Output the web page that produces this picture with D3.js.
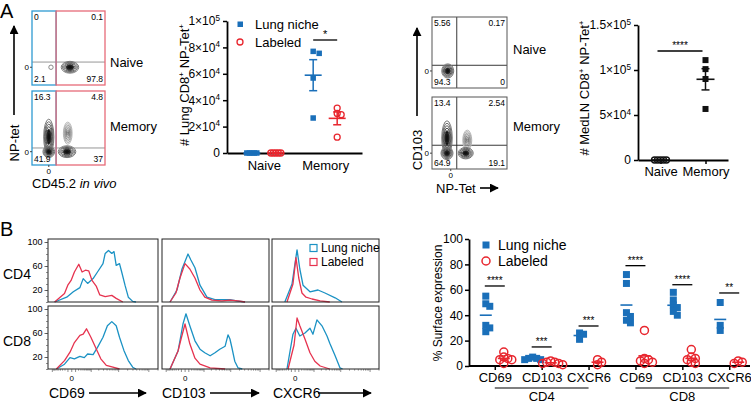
<!DOCTYPE html>
<html>
<head>
<meta charset="utf-8">
<script src="https://cdn.jsdelivr.net/npm/d3@7"></script>
<style>
body { margin: 0; background: #fff; }
svg { display: block; }
</style>
</head>
<body>
<script>
var FONT = '"Liberation Sans", Arial, Helvetica, sans-serif'
var blue = "#1a6fb9", red = "#e8262e"
var histBlue = "#1b92c4", histRed = "#e6334f"
var gateBlue = "#2e9ad2", gateRed = "#e66b79"

// ---- panel A data ----
var aGroups = ["Naive", "Memory"]
var lungNaive = [0, 0, 0, 0, 0]
var lungMemory = [77000, 75500, 56800, 26500]
var labNaive = [0, 0, 0, 0, 0]
var labMemory = [34000, 30000, 29000, 12000]
var lungTicks = [0, 20000, 40000, 60000, 80000, 100000]

var medNaive = [0, 0, 0, 0, 0]
var medMemory = [111000, 101000, 90000, 56700]
var medTicks = [0, 50000, 100000, 150000]

// gate / quadrant percentages: top-left, top-right, bottom-left, bottom-right
var gateNaive = ["0", "0.1", "2.1", "97.8"]
var gateMemory = ["16.3", "4.8", "41.9", "37"]
var quadNaive = ["5.56", "0.17", "94.3", "0"]
var quadMemory = ["13.4", "2.54", "64.9", "19.1"]

// contour blobs in plot units: x, y, half width, half height, kind (1 dark, 0 light, 2 single ring)
var blobsA1 = [[26, 24, 3, 3, 2], [52, 24, 12, 8, 1]]
var blobsA2 = [[23, 38, 7, 24, 1], [23, 18, 8, 8, 1], [49, 43, 6, 15, 0], [48, 18, 12, 8, 1]]
var blobsR1 = [[21, 24, 8, 10, 1]]
var blobsR2 = [[20, 43, 7, 24, 1], [20, 22, 8, 9, 1], [47, 40, 6, 14, 0], [45, 22, 10, 8, 1]]

// ---- panel B histograms: [channel (0-100 of the box), % of max] ----
var cd4Cd69Lung = [[6,0],[17,8],[23,17],[29,24],[32,39],[36,31],[41,39],[45,50],[50,64],[52,81],[55,86],[58,81],[60,84],[62,61],[65,64],[67,50],[70,28],[73,8],[77,1],[80,0]]
var cd4Cd69Lab = [[6,0],[15,14],[18,28],[21,36],[24,50],[28,63],[31,50],[34,53],[37,52],[40,36],[44,26],[47,12],[52,9],[58,11],[62,6],[68,0]]
var cd4Cd103Lung = [[7.5,0],[14,20],[18.7,55],[24.3,80],[27,70],[30.8,57],[35.5,28],[42,8],[49.5,4],[56,4],[63.5,4],[70,2],[77.6,0]]
var cd4Cd103Lab = [[7.5,0],[13,15],[16.8,40],[21.5,64],[26,55],[30.8,40],[35.5,20],[40,8],[46.7,3],[56,2],[63.5,3],[71,2],[77.6,0]]
var cd4Cxcr6Lung = [[12,0],[18.7,30],[23.4,87],[26,55],[29,28],[35.5,17],[43,20],[49.5,15],[59,7],[65.4,0]]
var cd4Cxcr6Lab = [[14,0],[19.6,30],[22.4,74],[25,40],[28,15],[31.8,8],[37.4,5],[45,2],[54,0]]
var cd8Cd69Lung = [[7.6,0],[15,8],[20,19],[24,17],[29,21],[33,19],[36,25],[41,24],[45,36],[50,53],[54,72],[58,79],[62,72],[65,53],[69,31],[73,14],[77,3],[80,0]]
var cd8Cd69Lab = [[7.6,0],[15,14],[20,28],[24,44],[29,56],[32,58],[35,67],[39,53],[44,33],[48,17],[53,6],[59,3],[65,0]]
var cd8Cd103Lung = [[7.5,0],[15,30],[19.6,75],[22.4,92],[26,72],[30.8,47],[35.5,33],[40,27],[45,22],[49.5,27],[54,33],[59,38],[61.7,57],[63.5,50],[65.4,35],[68,13],[71,2],[75,0]]
var cd8Cd103Lab = [[7.5,0],[15,30],[17.8,50],[21.5,75],[26,42],[30.8,18],[35.5,8],[45,2],[59,0]]
var cd8Cxcr6Lung = [[14,0],[19.6,58],[22.4,68],[26,55],[30.8,60],[35.5,68],[38.3,58],[42,82],[46.7,72],[51.4,55],[54,43],[59,22],[63.5,2],[66,0]]
var cd8Cxcr6Lab = [[15,0],[20.6,40],[23.4,85],[26,72],[30.8,50],[35.5,27],[40,13],[45,5],[54,0]]
var histMarkers = ["CD69", "CD103", "CXCR6"]
var histCells = ["CD4", "CD8"]
var histTicks = [20, 60, 100]

// ---- panel B surface expression ----
var bMarkers = ["CD69", "CD103", "CXCR6", "CD69", "CD103", "CXCR6"]
var bCells = ["CD4", "CD8"]
var bLung = [[55, 49, 47, 32, 30, 27], [7, 6, 6, 5, 5], [26, 25, 21], [72, 65, 42, 39, 36, 34], [58, 52, 48, 46, 43, 40], [50, 32, 28]]
var bLab = [[11, 7, 6, 5, 5, 2], [4, 3, 3, 2, 2, 1], [5, 3, 1], [28, 6, 5, 4, 3, 2], [13, 7, 6, 5, 3, 2], [4, 3, 2]]
var bStars = ["****", "***", "***", "****", "****", "**"]
var bStarHeights = [63, 15, 31.5, 79, 64, 57.5]
var bTicks = [0, 20, 40, 60, 80, 100]

var svg = d3.select("body").append("svg")
    .attr("width", 751).attr("height", 404)
    .attr("font-family", FONT)

svg.append("defs").append("marker")
    .attr("id", "head").attr("viewBox", "0 0 10 10")
    .attr("refX", 9).attr("refY", 5)
    .attr("markerWidth", 9).attr("markerHeight", 9)
    .attr("markerUnits", "userSpaceOnUse").attr("orient", "auto")
    .append("path").attr("d", "M0,0L10,5L0,10z").attr("fill", "#000")

function text(x, y, t, size, anchor) {
    return svg.append("text").attr("x", x).attr("y", y)
        .attr("font-size", size).attr("text-anchor", anchor || "start").text(t)
}

function arrow(x1, y1, x2, y2) {
    svg.append("line").attr("x1", x1).attr("y1", y1).attr("x2", x2).attr("y2", y2)
        .attr("stroke", "#000").attr("stroke-width", 1.6).attr("marker-end", "url(#head)")
}

// label with superscript "+" parts, e.g. ["# Lung CD8", "+", " NP-Tet", "+"]
function supLabel(x, y, parts, size, rotate) {
    var t = svg.append("text").attr("font-size", size).attr("text-anchor", "middle")
        .attr("transform", "translate(" + x + "," + y + ")" + (rotate ? " rotate(-90)" : ""))
    parts.forEach(function(p, i) {
        var s = t.append("tspan").text(p)
        if (i % 2) s.attr("font-size", size * 0.62).attr("dy", -size * 0.4)
        else if (i > 0) s.attr("dy", size * 0.4)
    })
    return t
}

function sciLabels(sel) {
    sel.selectAll(".tick text").each(function(d) {
        var t = d3.select(this).text("")
        if (d === 0) { t.text("0"); return }
        var e = Math.floor(Math.log10(d) + 1e-9)
        var m = +(d / Math.pow(10, e)).toFixed(1)
        t.append("tspan").text(m + "×10")
        t.append("tspan").attr("dy", "-0.55em").attr("font-size", "0.68em").text(e)
    })
}

function styleAxis(g, size) {
    g.attr("font-family", FONT).attr("font-size", size)
    g.select(".domain").attr("stroke-width", 1.8)
    g.selectAll(".tick line").attr("stroke-width", 1.5)
}

// spread points of similar height sideways, prism style
function dodge(vals, y, step) {
    var placed = []
    return vals.slice().sort(d3.descending).map(function(v) {
        var cy = y(v), k = 0, dx = 0
        while (placed.some(function(p) { return Math.abs(p[0] - dx) < step * 0.99 && Math.abs(p[1] - cy) < step })) {
            k++
            dx = (k % 2 ? 1 : -1) * Math.ceil(k / 2) * step
        }
        placed.push([dx, cy])
        return [dx, cy]
    })
}

function points(vals, cx, y, o) {
    var g = svg.append("g")
    var pos = dodge(vals, y, o.step)
    if (o.shape == "square") {
        g.selectAll("rect").data(pos).enter().append("rect")
            .attr("x", function(d) { return cx + d[0] - o.size / 2 })
            .attr("y", function(d) { return d[1] - o.size / 2 })
            .attr("width", o.size).attr("height", o.size)
            .attr("fill", o.color)
    } else {
        g.selectAll("circle").data(pos).enter().append("circle")
            .attr("cx", function(d) { return cx + d[0] })
            .attr("cy", function(d) { return d[1] })
            .attr("r", o.size / 2).attr("fill", "none")
            .attr("stroke", o.color).attr("stroke-width", o.sw || 1.3)
    }
    var m = d3.mean(vals)
    g.append("line").attr("x1", cx - o.meanW).attr("x2", cx + o.meanW)
        .attr("y1", y(m)).attr("y2", y(m)).attr("stroke", o.color).attr("stroke-width", 1.6)
    if (o.sem) {
        var se = (d3.deviation(vals) || 0) / Math.sqrt(vals.length)
        g.append("line").attr("x1", cx).attr("x2", cx).attr("y1", y(m - se)).attr("y2", y(m + se))
            .attr("stroke", o.color).attr("stroke-width", 1.5)
        ;[m - se, m + se].forEach(function(v) {
            g.append("line").attr("x1", cx - o.sem).attr("x2", cx + o.sem).attr("y1", y(v)).attr("y2", y(v))
                .attr("stroke", o.color).attr("stroke-width", 1.5)
        })
    }
}

function sigBar(x1, x2, y, label, size) {
    svg.append("line").attr("x1", x1).attr("x2", x2).attr("y1", y).attr("y2", y)
        .attr("stroke", "#000").attr("stroke-width", 1.3)
    text((x1 + x2) / 2, y - 2, label, size || 10, "middle")
}

// ---- flow cytometry contour plots ----
function flowPlot(o) {
    var fx = d3.scaleLinear().domain([0, 100]).range([o.x, o.x + o.w])
    var fy = d3.scaleLinear().domain([0, 100]).range([o.y + o.h, o.y])
    var g = svg.append("g")
    g.append("line").attr("x1", fx(0)).attr("x2", fx(100)).attr("y1", fy(o.hy)).attr("y2", fy(o.hy))
        .attr("stroke", o.gated ? "#8a8a8a" : "#222").attr("stroke-width", 0.9)
    if (!o.gated) {
        g.append("line").attr("x1", fx(o.vx)).attr("x2", fx(o.vx)).attr("y1", fy(0)).attr("y2", fy(100))
            .attr("stroke", "#222").attr("stroke-width", 0.9)
    }
    o.blobs.forEach(function(b) {
        var n = b[4] == 2 ? 1 : 7
        for (var k = 0; k < n; k++) {
            var s = 1 - k / n
            var c = b[4] == 1 ? d3.interpolateGreys(0.6 + 0.4 * k / n)
                : b[4] == 0 ? d3.interpolateGreys(0.38 + 0.3 * k / n) : "#888"
            g.append("ellipse")
                .attr("cx", fx(b[0])).attr("cy", fy(b[1]))
                .attr("rx", s * (fx(b[2]) - fx(0))).attr("ry", s * (fy(0) - fy(b[3])))
                .attr("fill", (b[4] == 1 && k >= n - 3) ? "#151515" : "none")
                .attr("stroke", c).attr("stroke-width", 1)
        }
    })
    if (o.gated) {
        g.append("rect").attr("x", fx(0)).attr("y", fy(100)).attr("width", fx(o.vx) - fx(0)).attr("height", fy(0) - fy(100))
            .attr("fill", "none").attr("stroke", gateBlue).attr("stroke-width", 1.3)
        g.append("rect").attr("x", fx(o.vx)).attr("y", fy(100)).attr("width", fx(100) - fx(o.vx)).attr("height", fy(0) - fy(100))
            .attr("fill", "none").attr("stroke", gateRed).attr("stroke-width", 1.3)
    } else {
        g.append("rect").attr("x", fx(0)).attr("y", fy(100)).attr("width", o.w).attr("height", o.h)
            .attr("fill", "none").attr("stroke", "#555").attr("stroke-width", 1)
    }
    text(fx(0) + 2, fy(100) + 9, o.nums[0], 8.5)
    text(fx(100) - 2, fy(100) + 9, o.nums[1], 8.5, "end")
    text(fx(0) + 2, fy(0) - 3, o.nums[2], 8.5)
    text(fx(100) - 2, fy(0) - 3, o.nums[3], 8.5, "end")
    text(fx(0) - 3, fy(o.zeroY) + 3, "0", 8, "end")
    g.append("line").attr("x1", fx(0) - 2).attr("x2", fx(0)).attr("y1", fy(o.zeroY)).attr("y2", fy(o.zeroY)).attr("stroke", "#444")
    if (o.zeroX != null) {
        text(fx(o.zeroX), fy(0) + 9, "0", 8, "middle")
        g.append("line").attr("x1", fx(o.zeroX)).attr("x2", fx(o.zeroX)).attr("y1", fy(0)).attr("y2", fy(0) + 2).attr("stroke", "#444")
    }
}

text(0, 18, "A", 20)
flowPlot({ x: 32, y: 11, w: 73, h: 74, vx: 33, hy: 31, zeroY: 24, gated: true, nums: gateNaive, blobs: blobsA1 })
flowPlot({ x: 32, y: 91, w: 73, h: 74, vx: 33, hy: 23, zeroY: 18, zeroX: 23, gated: true, nums: gateMemory, blobs: blobsA2 })
arrow(14, 115, 14, 26)
svg.append("text").attr("font-size", 13).attr("text-anchor", "middle")
    .attr("transform", "translate(19,143) rotate(-90)").text("NP-tet")
var cdl = svg.append("text").attr("x", 32).attr("y", 188).attr("font-size", 13)
cdl.append("tspan").text("CD45.2 ")
cdl.append("tspan").attr("font-style", "italic").text("in vivo")
text(110, 67, aGroups[0], 13)
text(110, 131, aGroups[1], 13)

flowPlot({ x: 432, y: 17, w: 75, h: 71, vx: 33, hy: 32, zeroY: 24, nums: quadNaive, blobs: blobsR1 })
flowPlot({ x: 432, y: 97, w: 75, h: 72, vx: 33, hy: 33, zeroY: 22, zeroX: 25, nums: quadMemory, blobs: blobsR2 })
arrow(417, 116, 417, 28)
svg.append("text").attr("font-size", 13).attr("text-anchor", "middle")
    .attr("transform", "translate(422,150) rotate(-90)").text("CD103")
text(436, 193, "NP-Tet", 13)
arrow(480, 188, 498, 188)
text(513, 54, aGroups[0], 13)
text(513, 131, aGroups[1], 13)

// ---- lung niche counts ----
var ax = d3.scalePoint().domain(aGroups).range([227, 362]).padding(0.6)
var ay = d3.scaleLinear().domain([0, 100000]).range([153, 21])
svg.append("g").attr("transform", "translate(227,0)")
    .call(d3.axisLeft(ay).tickValues(lungTicks).tickSize(4).tickSizeOuter(0).tickPadding(3))
    .call(sciLabels).call(styleAxis, 12)
svg.append("g").attr("transform", "translate(0,153)")
    .call(d3.axisBottom(ax).tickSize(0).tickPadding(8))
    .call(styleAxis, 13)
supLabel(189, 85, ["# Lung CD8", "+", " NP-Tet", "+"], 13, true)
points(lungNaive, ax("Naive") - 12, ay, { shape: "square", size: 5.5, color: blue, step: 2.5, meanW: 8.5, sem: 4 })
points(labNaive, ax("Naive") + 12, ay, { shape: "circle", size: 6, color: red, step: 2.5, meanW: 8.5, sem: 4 })
points(lungMemory, ax("Memory") - 12, ay, { shape: "square", size: 5.5, color: blue, step: 6, meanW: 8.5, sem: 4 })
points(labMemory, ax("Memory") + 12, ay, { shape: "circle", size: 6, color: red, step: 4, meanW: 8.5, sem: 4 })
sigBar(ax("Memory") - 12, ax("Memory") + 12, 40, "*", 11)
svg.append("rect").attr("x", 237.5).attr("y", 21.5).attr("width", 5.5).attr("height", 5.5).attr("fill", blue)
text(255, 29, "Lung niche", 13)
svg.append("circle").attr("cx", 240).attr("cy", 42).attr("r", 3).attr("fill", "none").attr("stroke", red).attr("stroke-width", 1.3)
text(255, 47, "Labeled", 13)

// ---- MedLN counts ----
var mx = d3.scalePoint().domain(aGroups).range([638, 728]).padding(0.5)
var my = d3.scaleLinear().domain([0, 150000]).range([160, 25])
svg.append("g").attr("transform", "translate(638,0)")
    .call(d3.axisLeft(my).tickValues(medTicks).tickSize(4).tickSizeOuter(0).tickPadding(3))
    .call(sciLabels).call(styleAxis, 12)
svg.append("g").attr("transform", "translate(0,160)")
    .call(d3.axisBottom(mx).tickSize(4).tickSizeOuter(0).tickPadding(3))
    .call(styleAxis, 13)
supLabel(589, 88, ["# MedLN CD8", "+", " NP-Tet", "+"], 13, true)
points(medNaive, mx("Naive"), my, { shape: "circle", size: 6, color: "#111", step: 3, meanW: 9, sem: 4 })
points(medMemory, mx("Memory"), my, { shape: "square", size: 6, color: "#111", step: 6, meanW: 9, sem: 4 })
sigBar(mx("Naive") - 3, mx("Memory") - 3, 51, "****", 10)

// ---- panel B histograms ----
text(0, 236, "B", 20)
var colX = [[48, 158], [162, 269], [272, 379]]
var rowY = [[239, 302], [306, 369]]
var histLung = [[cd4Cd69Lung, cd4Cd103Lung, cd4Cxcr6Lung], [cd8Cd69Lung, cd8Cd103Lung, cd8Cxcr6Lung]]
var histLab = [[cd4Cd69Lab, cd4Cd103Lab, cd4Cxcr6Lab], [cd8Cd69Lab, cd8Cd103Lab, cd8Cxcr6Lab]]

// decade-style channel ticks under the bottom row
var chanTicks = d3.range(100, 1001, 100).map(function(v) { return -v })
;[100, 1000, 10000, 100000].forEach(function(dec) {
    d3.range(1, 10).forEach(function(k) { if (k * dec <= 200000) chanTicks.push(k * dec) })
})
chanTicks.push(0)

histCells.forEach(function(cell, r) {
    var hy = d3.scaleLinear().domain([0, 105]).range([rowY[r][1], rowY[r][0]])
    text(3, (rowY[r][0] + rowY[r][1]) / 2 + 8, cell, 14)
    histMarkers.forEach(function(mk, c) {
        var hx = d3.scaleLinear().domain([0, 100]).range(colX[c])
        var line = d3.line().x(function(d) { return hx(d[0]) }).y(function(d) { return hy(d[1]) })
        svg.append("path").attr("d", line(histLung[r][c])).attr("fill", "none")
            .attr("stroke", histBlue).attr("stroke-width", 1.3).attr("stroke-linejoin", "round")
        svg.append("path").attr("d", line(histLab[r][c])).attr("fill", "none")
            .attr("stroke", histRed).attr("stroke-width", 1.3).attr("stroke-linejoin", "round")
        svg.append("rect").attr("x", colX[c][0]).attr("y", rowY[r][0])
            .attr("width", colX[c][1] - colX[c][0]).attr("height", rowY[r][1] - rowY[r][0])
            .attr("fill", "none").attr("stroke", "#222").attr("stroke-width", 1)
        if (r == 1) {
            var sx = d3.scaleSymlog().constant(300).domain([-1500, 200000]).range(colX[c])
            chanTicks.forEach(function(t) {
                var major = t === 0 || Math.abs(Math.log10(Math.abs(t)) % 1) < 1e-9
                svg.append("line").attr("x1", sx(t)).attr("x2", sx(t))
                    .attr("y1", rowY[r][1]).attr("y2", rowY[r][1] + (major ? 3 : 1.6))
                    .attr("stroke", "#444").attr("stroke-width", 0.6)
            })
            text(sx(0), rowY[r][1] + 12, "0", 8, "middle")
        }
    })
    var yg = svg.append("g").attr("transform", "translate(" + colX[0][0] + ",0)")
        .call(d3.axisLeft(hy).tickValues(d3.range(0, 101, 10)).tickSize(2).tickSizeOuter(0).tickFormat(""))
    yg.select(".domain").remove()
    yg.selectAll("line").attr("stroke", "#444").attr("stroke-width", 0.6)
    var yl = svg.append("g").attr("transform", "translate(" + colX[0][0] + ",0)")
        .call(d3.axisLeft(hy).tickValues(histTicks).tickSize(3.5).tickSizeOuter(0).tickPadding(2))
    yl.select(".domain").remove()
    yl.attr("font-family", FONT).attr("font-size", 9)
    yl.selectAll("line").attr("stroke", "#444").attr("stroke-width", 0.8)
})
;[["CD69", 49, 89, 146], ["CD103", 162, 210, 259], ["CXCR6", 273, 318, 371]].forEach(function(a) {
    text(a[1], 398, a[0], 14)
    arrow(a[2], 393, a[3], 393)
})
svg.append("rect").attr("x", 310).attr("y", 244.5).attr("width", 7).attr("height", 7)
    .attr("fill", "none").attr("stroke", histBlue).attr("stroke-width", 1.2)
text(321, 252, "Lung niche", 12)
svg.append("rect").attr("x", 310).attr("y", 258.5).attr("width", 7).attr("height", 7)
    .attr("fill", "none").attr("stroke", histRed).attr("stroke-width", 1.2)
text(321, 266, "Labeled", 12)

// ---- panel B surface expression ----
var bx = d3.scalePoint().domain(d3.range(bMarkers.length)).range([469, 755]).padding(0.55)
var by = d3.scaleLinear().domain([0, 100]).range([366, 239])
svg.append("g").attr("transform", "translate(469,0)")
    .call(d3.axisLeft(by).tickValues(bTicks).tickSize(4).tickSizeOuter(0).tickPadding(2))
    .call(styleAxis, 12)
var bxg = svg.append("g").attr("transform", "translate(0,366)")
    .call(d3.axisBottom(bx).tickSize(4).tickPadding(3).tickFormat(function(i) { return bMarkers[i] }))
    .call(styleAxis, 13)
bxg.select(".domain").remove()
svg.append("line").attr("x1", 469).attr("x2", 750).attr("y1", 366).attr("y2", 366)
    .attr("stroke", "#000").attr("stroke-width", 1.8)
svg.append("text").attr("font-size", 12).attr("text-anchor", "middle")
    .attr("transform", "translate(442,303) rotate(-90)").text("% Surface expression")
bCells.forEach(function(cell, k) {
    var x1 = bx(k * 3), x2 = bx(k * 3 + 2)
    svg.append("line").attr("x1", x1).attr("x2", x2).attr("y1", 388).attr("y2", 388)
        .attr("stroke", "#000").attr("stroke-width", 1.2)
    text((x1 + x2) / 2, 401, cell, 13, "middle")
})
bMarkers.forEach(function(m, i) {
    var c = bx(i)
    points(bLung[i], c - 9, by, { shape: "square", size: 7, color: blue, step: 4, meanW: 6 })
    points(bLab[i], c + 9, by, { shape: "circle", size: 8, color: red, step: 4, meanW: 6, sw: 1.5 })
    sigBar(c - 10, c + 10, by(bStarHeights[i]), bStars[i], 10)
})
svg.append("rect").attr("x", 482.5).attr("y", 241.5).attr("width", 7).attr("height", 7).attr("fill", blue)
text(498, 250, "Lung niche", 14)
svg.append("circle").attr("cx", 486).attr("cy", 261).attr("r", 4).attr("fill", "none").attr("stroke", red).attr("stroke-width", 1.5)
text(498, 266, "Labeled", 14)
</script>
</body>
</html>
